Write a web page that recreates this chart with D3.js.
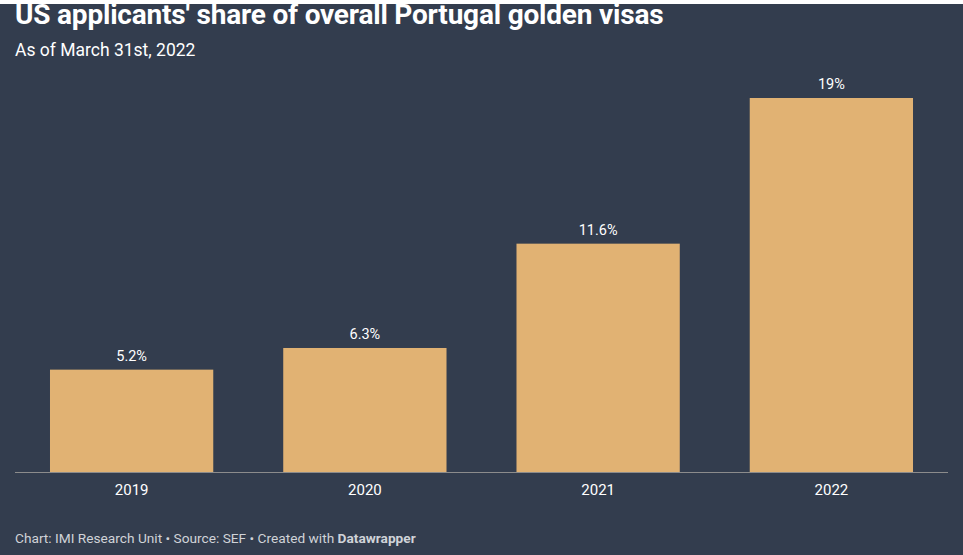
<!DOCTYPE html>
<html><head><meta charset="utf-8">
<script src="https://cdn.jsdelivr.net/npm/d3@7"></script>
<style>
html,body{margin:0;padding:0;background:#333d4e;}
svg{display:block;}
text{font-family:Roboto,"Noto Sans",sans-serif;}
</style></head>
<body>
<svg id="chart" width="963" height="555"></svg>
<script>
const categories = ["2019", "2020", "2021", "2022"];
const values = [5.2, 6.3, 11.6, 19];
const valueLabels = ["5.2%", "6.3%", "11.6%", "19%"];

const W = 963, H = 555;
const svg = d3.select("#chart");
svg.append("rect").attr("width", W).attr("height", H).attr("fill", "#333d4e");
svg.append("rect").attr("width", W).attr("height", 4).attr("fill", "#ffffff");

svg.append("text").attr("x", 15).attr("y", 24)
  .attr("fill", "#ffffff").attr("font-size", 28).attr("font-weight", 700)
  .attr("letter-spacing", -0.2)
  .text("US applicants' share of overall Portugal golden visas");
svg.append("text").attr("x", 15).attr("y", 56)
  .attr("fill", "#ffffff").attr("font-size", 17.5)
  .text("As of March 31st, 2022");

const x = d3.scaleBand().domain(categories).range([15, 948]).paddingInner(0.3).paddingOuter(0.15);
const y = d3.scaleLinear().domain([0, 19]).range([472, 98]);

svg.append("g").selectAll("rect").data(values).join("rect")
  .attr("x", (d, i) => x(categories[i]))
  .attr("width", x.bandwidth())
  .attr("y", d => y(d))
  .attr("height", d => y(0) - y(d))
  .attr("fill", "#e1b273");

svg.append("g").selectAll("text").data(values).join("text")
  .attr("x", (d, i) => x(categories[i]) + x.bandwidth() / 2)
  .attr("y", d => y(d) - 9)
  .attr("text-anchor", "middle")
  .attr("fill", "#ffffff").attr("font-size", 14.5)
  .text((d, i) => valueLabels[i]);

const axis = svg.append("g").attr("transform", `translate(0,${y(0)})`)
  .call(d3.axisBottom(x).tickSize(0).tickPadding(12));
axis.select(".domain").attr("stroke", "#8c8c8c").attr("stroke-width", 1)
  .attr("d", "M15,0.5H948");
axis.selectAll("text").attr("fill", "#ffffff").attr("font-size", 15)
  .attr("font-family", "Roboto, 'Noto Sans', sans-serif");

const foot = svg.append("text").attr("x", 15).attr("y", 543)
  .attr("fill", "#d0d3d8").attr("font-size", 13.7);
foot.append("tspan").text("Chart: IMI Research Unit • Source: SEF • Created with ");
foot.append("tspan").attr("font-weight", 700).text("Datawrapper");
</script>
</body></html>
